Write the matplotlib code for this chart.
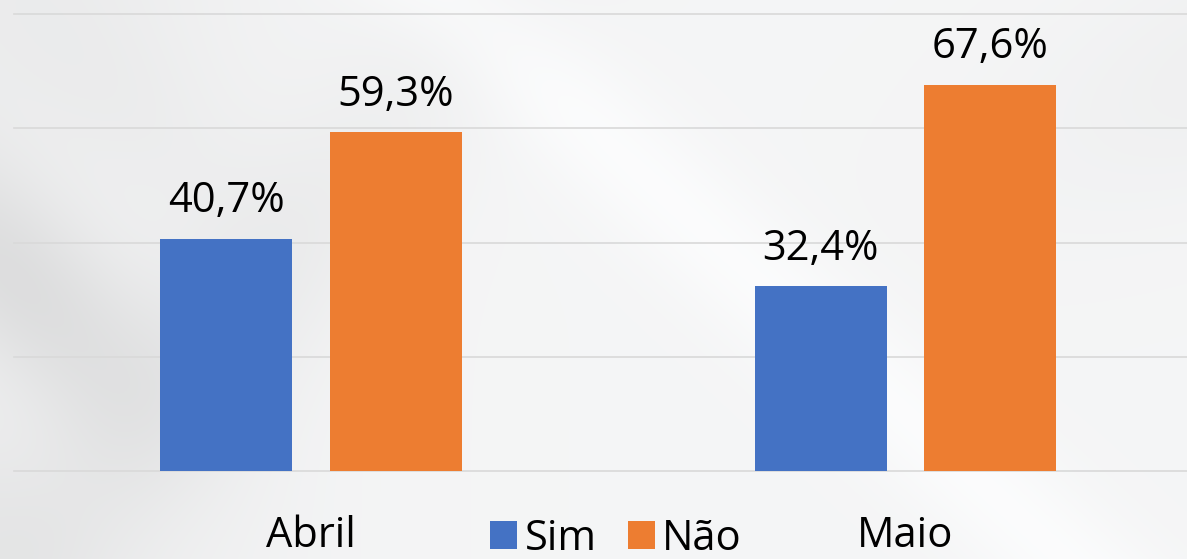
import numpy as np
import matplotlib
matplotlib.use("Agg")
import matplotlib.pyplot as plt

categories = ["Abril", "Maio"]
series = ["Sim", "Não"]
sim_vals = [40.7, 32.4]
nao_vals = [59.3, 67.6]
sim_labels = ["40,7%", "32,4%"]
nao_labels = ["59,3%", "67,6%"]

W, H, DPI = 1187, 559, 100
fig = plt.figure(figsize=(W / DPI, H / DPI), dpi=DPI)

# background texture (soft grey, darker on the left, diagonal streaks)
bg = fig.add_axes([0, 0, 1, 1], zorder=-10)
yy, xx = np.mgrid[0:H, 0:W].astype(float)
val = 0.965 - 0.035 * np.exp(-((xx - 0) / 260.0) ** 2)
d1 = (xx + yy * 0.9)
d2 = (xx - yy * 1.1)
val -= 0.06 * np.exp(-((xx) / 170.0) ** 2) * (0.5 + 0.5 * np.sin(d2 / 60.0)) * np.exp(-((yy - 300) / 200.0) ** 2)
val -= 0.03 * np.exp(-((d1 - 520) / 120.0) ** 2) * np.exp(-((xx - 200) / 300.0) ** 2)
val += 0.025 * np.exp(-((d2 - 450) / 90.0) ** 2)
val -= 0.02 * np.exp(-((d1 - 1300) / 200.0) ** 2) * np.exp(-((yy - 60) / 150.0) ** 2)
val = np.clip(val, 0, 1)
rgb = np.dstack([val * 0.995, val * 0.997, val])
bg.imshow(rgb, aspect="auto", extent=[0, W, H, 0])
bg.set_axis_off()

# main axes
left_px, right_px = 14, 1202.5
top_px, base_px = 14, 471
ax = fig.add_axes([left_px / W, (H - base_px) / H, (right_px - left_px) / W, (base_px - top_px) / H])
ax.patch.set_alpha(0)
ax.set_xlim(-0.5, 1.5)
ax.set_ylim(0, 80)

x = np.arange(len(categories))
bw = 0.222
off = 0.1425
blue = "#4472C4"
orange = "#ED7D31"
b1 = ax.bar(x - off, sim_vals, bw, color=blue, label=series[0], zorder=3)
b2 = ax.bar(x + off, nao_vals, bw, color=orange, label=series[1], zorder=3)

for yv in [0, 20, 40, 60, 80]:
    ax.axhline(yv, color="#d9d9d9", lw=1.2, zorder=1, clip_on=False)

font = "Open Sans"
fs = 30
for rect, lab in zip(list(b1) + list(b2), sim_labels + nao_labels):
    ax.annotate(lab, (rect.get_x() + rect.get_width() / 2, rect.get_height()),
                xytext=(0, 19), textcoords="offset points", ha="center", va="baseline",
                fontsize=fs, family=font, color="#000000")

ax.set_xticks(x)
ax.set_xticklabels(categories, fontsize=fs, family=font)
ax.tick_params(axis="x", length=0, pad=32)
ax.set_yticks([])
for s in ax.spines.values():
    s.set_visible(False)

leg = fig.legend(handles=[b1, b2], labels=series, loc="center", bbox_to_anchor=(616 / W, 1 - 538.5 / H),
                 ncol=2, frameon=False, prop={"family": font, "size": fs},
                 handlelength=0.65, handleheight=0.65, handletextpad=0.17, columnspacing=0.75,
                 borderpad=0)

fig.savefig("out.png", dpi=DPI)
